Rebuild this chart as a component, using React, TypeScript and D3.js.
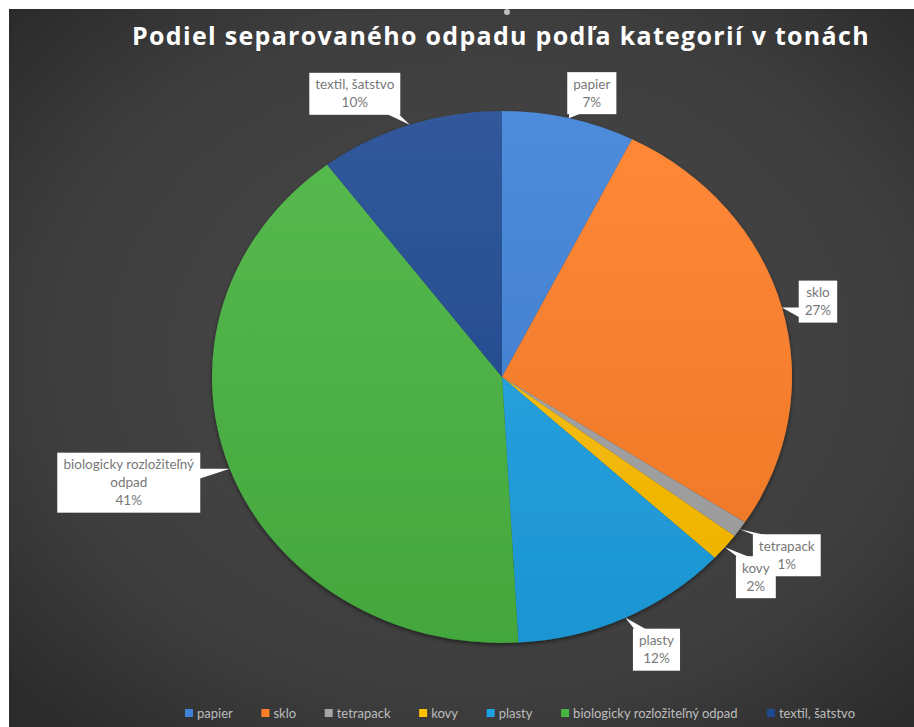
import React from "react";
import * as d3 from "d3";

const categories = ["papier", "sklo", "tetrapack", "kovy", "plasty", "biologicky rozložiteľný odpad", "textil, šatstvo"];
const values = [7.4, 26.8, 1.0, 1.7, 12.2, 40.6, 10.3];
const colors = ["#3F82D8", "#FF7F27", "#A5A5A5", "#FFC000", "#1EA2E4", "#49B541", "#1F4A93"];
const labelLines = [["papier"], ["sklo"], ["tetrapack"], ["kovy"], ["plasty"], ["biologicky rozložiteľný", "odpad"], ["textil, šatstvo"]];
const labelOffsets = [[23, -25], [36, -6], [47, 26], [31, 30], [31, 32], [-101, 14], [-55, -31]];
const title = "Podiel separovaného odpadu podľa kategorií v tonách";

const W = 914, H = 727;
const cx = 502, cy = 377, rx = 290, ry = 266;

const canvas = typeof document !== "undefined" ? document.createElement("canvas") : null;
function measure(text: string, font: string) {
  if (!canvas) return text.length * 6;
  const ctx = canvas.getContext("2d")!;
  ctx.font = font;
  return ctx.measureText(text).width;
}

export default function App() {
  const total = d3.sum(values);
  const pie = d3.pie<number>().sort(null).value(d => d)(values);
  const arc = d3.arc<d3.PieArcDatum<number>>().innerRadius(0).outerRadius(ry);
  const labelSize = 13.5;
  const labelFont = `${labelSize}px Lato`;
  const lineH = 18;
  const padY = 6;

  const labels = pie.map((p, i) => {
    const mid = (p.startAngle + p.endAngle) / 2;
    const tx = cx + rx * Math.sin(mid);
    const ty = cy - ry * Math.cos(mid);
    const pct = Math.round((values[i] / total) * 100) + "%";
    const lines = [...labelLines[i], pct];
    const tw = d3.max(lines, l => measure(l, labelFont))!;
    const bw = tw + 12;
    const bh = lines.length * lineH + padY;
    const bcx = tx + labelOffsets[i][0];
    const bcy = ty + labelOffsets[i][1];
    const x0 = bcx - bw / 2, y0 = bcy - bh / 2, x1 = bcx + bw / 2, y1 = bcy + bh / 2;
    const nx = Math.max(x0, Math.min(x1, tx));
    const ny = Math.max(y0, Math.min(y1, ty));
    let b1: [number, number], b2: [number, number];
    const dxl = Math.abs(nx - x0), dxr = Math.abs(nx - x1), dyt = Math.abs(ny - y0), dyb = Math.abs(ny - y1);
    const m = Math.min(dxl, dxr, dyt, dyb);
    if (m === dyt || m === dyb) {
      const ey = m === dyt ? y0 + 1 : y1 - 1;
      const px = Math.max(x0 + 2, Math.min(x1 - 14, nx));
      b1 = [px, ey]; b2 = [px + 12, ey];
    } else {
      const ex = m === dxl ? x0 + 1 : x1 - 1;
      const py = Math.max(y0 + 2, Math.min(y1 - 12, ny));
      b1 = [ex, py]; b2 = [ex, py + 10];
    }
    return { tx, ty, lines, x0, y0, bw, bh, bcx, b1, b2 };
  });

  const legendSize = 13;
  const legendFont = `${legendSize}px Lato`;
  const items = categories.map(c => ({ c, w: 8 + 4 + measure(c, legendFont) }));
  const legendLeft = 185, legendRight = 855;
  const gap = (legendRight - legendLeft - d3.sum(items, d => d.w)) / (items.length - 1);
  let lx = legendLeft;
  const legendPos = items.map(it => { const x = lx; lx += it.w + gap; return x; });
  const legendY = 714;

  return (
    <svg width={W} height={H} style={{ position: "absolute", left: 0, top: 0, display: "block" }}>
      <defs>
        <radialGradient id="bg" cx="52%" cy="48%" r="70%">
          <stop offset="0%" stopColor="#4b4b4b" />
          <stop offset="70%" stopColor="#3d3d3d" />
          <stop offset="100%" stopColor="#2b2b2b" />
        </radialGradient>
        <linearGradient id="shade" x1="0" y1="0" x2="0" y2="1">
          <stop offset="0%" stopColor="#fff" stopOpacity="0.08" />
          <stop offset="100%" stopColor="#000" stopOpacity="0.08" />
        </linearGradient>
        <filter id="sh" x="-10%" y="-10%" width="120%" height="120%">
          <feDropShadow dx="0" dy="2" stdDeviation="2" floodColor="#000" floodOpacity="0.5" />
        </filter>
      </defs>
      <rect x={0} y={0} width={W} height={H} fill="#fff" />
      <rect x={9} y={9} width={W - 9} height={H - 9} fill="url(#bg)" />
      <circle cx={507} cy={12} r={3} fill="#ddd" opacity={0.8} />
      <text x={501} y={45} textAnchor="middle" fill="#fff" fontFamily="Open Sans" fontWeight="bold" fontSize={25} letterSpacing={1.3}>{title}</text>
      <g transform={`translate(${cx},${cy}) scale(${rx / ry},1)`} filter="url(#sh)">
        {pie.map((p, i) => (
          <path key={i} d={arc(p)!} fill={colors[i]} />
        ))}
        <ellipse cx={0} cy={0} rx={ry} ry={ry} fill="url(#shade)" />
      </g>
      <g>
        {labels.map((l, i) => (
          <g key={i}>
            <polygon points={[[l.tx, l.ty], l.b1, l.b2].map(p => p.join(",")).join(" ")} fill="#fff" />
            <rect x={l.x0} y={l.y0} width={l.bw} height={l.bh} fill="#fff" />
          </g>
        ))}
        {labels.map((l, i) => (
          <text key={i} fontFamily="Lato" fontSize={labelSize} fill="#787878" textAnchor="middle">
            {l.lines.map((ln, j) => (
              <tspan key={j} x={l.bcx} y={l.y0 + padY / 2 + lineH * (j + 0.5) + 4.5}>{ln}</tspan>
            ))}
          </text>
        ))}
      </g>
      <g>
        {items.map((it, i) => (
          <g key={i} transform={`translate(${legendPos[i]},${legendY})`}>
            <rect x={0} y={-5} width={8} height={8} fill={colors[i]} />
            <text x={12} y={4} fontFamily="Lato" fontSize={legendSize} fill="#bdbdbd">{it.c}</text>
          </g>
        ))}
      </g>
    </svg>
  );
}
